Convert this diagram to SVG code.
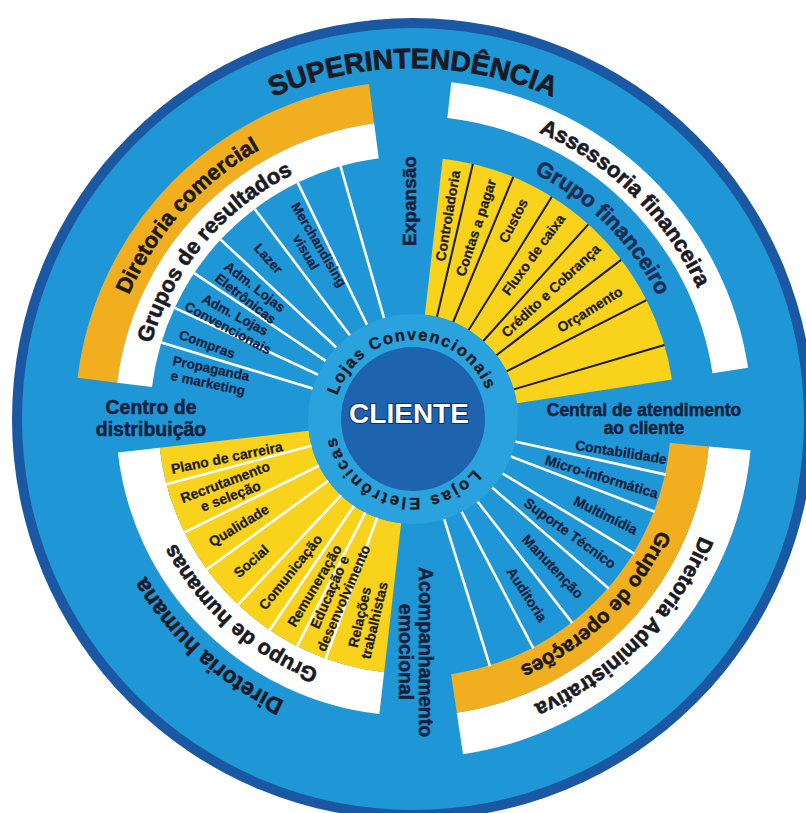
<svg xmlns="http://www.w3.org/2000/svg" width="806" height="813" viewBox="0 0 806 813">
<style>
  text { font-family: "Liberation Sans", Arial, sans-serif; font-weight: bold; fill: #1a1a24; }
  .arc { text-anchor: middle; }
  .band { font-size: 22px; stroke: #1a1a24; stroke-width: 0.6; }
  .sup { font-size: 28px; stroke: #1a1a24; stroke-width: 0.8; }
  .lojas { font-size: 16.5px; stroke: #1a1a24; stroke-width: 0.35; }
  .gap { font-size: 19px; fill: #16203a; stroke: #16203a; stroke-width: 0.5; }
  .item { font-size: 14px; stroke: #1a1a24; stroke-width: 0.25; }
  .tl { font-size: 13.5px; fill: #15203a; stroke: #15203a; stroke-width: 0.25; }
  .br { font-size: 14px; fill: #15203a; stroke: #15203a; stroke-width: 0.25; }
  .wl { stroke: #ffffff; stroke-width: 2.6; }
  .kl { stroke: #1a1a1a; stroke-width: 2; }
  .seg { fill: none; }
</style>
<defs>
  <!-- clockwise circles centred on the origin, starting at 9 o'clock -->
  <path id="a351" d="M-351 0A351 351 0 1 1 351 0A351 351 0 1 1 -351 0"/>
  <path id="a310" d="M-310 0A310 310 0 1 1 310 0A310 310 0 1 1 -310 0"/>
  <path id="a313" d="M-313 0A313 313 0 1 1 313 0A313 313 0 1 1 -313 0"/>
  <path id="a274" d="M-274 0A274 274 0 1 1 274 0A274 274 0 1 1 -274 0"/>
  <path id="a272" d="M-272.5 0A272.5 272.5 0 1 1 272.5 0A272.5 272.5 0 1 1 -272.5 0"/>
  <path id="a269" d="M-269.5 0A269.5 269.5 0 1 1 269.5 0A269.5 269.5 0 1 1 -269.5 0"/>
  <path id="a268" d="M-268 0A268 268 0 1 1 268 0A268 268 0 1 1 -268 0"/>
  <path id="a79" d="M-79 0A79 79 0 1 1 79 0A79 79 0 1 1 -79 0"/>
</defs>

<rect width="806" height="813" fill="#ffffff"/>

<!-- wheel background -->
<g id="wheel" transform="translate(413 419)">
  <circle r="401" fill="#1b58a4"/>
  <circle r="391" fill="#1f97d7"/>
</g>

<!-- quadrant bands (stroked arcs, pathLength in degrees) -->
<g id="bands" transform="translate(413 419)">
  <!-- Diretoria comercial (upper left) -->
  <circle class="seg" r="318" stroke="#f1ae1f" stroke-width="40" pathLength="360" stroke-dasharray="75.5 284.5" transform="rotate(187)"/>
  <circle class="seg" r="280.5" stroke="#ffffff" stroke-width="35" pathLength="360" stroke-dasharray="75.5 284.5" transform="rotate(187)"/>
  <!-- Assessoria financeira (upper right) -->
  <circle class="seg" r="321" stroke="#ffffff" stroke-width="36" pathLength="360" stroke-dasharray="74.8 285.2" transform="rotate(-83.5)"/>
  <circle class="seg" r="183.5" stroke="#f9d21c" stroke-width="157" pathLength="360" stroke-dasharray="74.8 285.2" transform="rotate(-83.5)"/>
  <!-- Diretoria Administrativa (lower right) -->
  <circle class="seg" r="318" stroke="#ffffff" stroke-width="42" pathLength="360" stroke-dasharray="76.2 283.8" transform="rotate(5.3)"/>
  <circle class="seg" r="277.5" stroke="#f1ae1f" stroke-width="39" pathLength="360" stroke-dasharray="76.2 283.8" transform="rotate(5.3)"/>
  <!-- Diretoria humana (lower left) -->
  <circle class="seg" r="276" stroke="#ffffff" stroke-width="42" pathLength="360" stroke-dasharray="77 283" transform="rotate(96.5)"/>
  <circle class="seg" r="180" stroke="#f9d21c" stroke-width="150" pathLength="360" stroke-dasharray="77 283" transform="rotate(96.5)"/>
</g>

<!-- sector dividers -->
<g id="dividers" transform="translate(413 419)">
  <g class="wl">
    <line x1="104" x2="263" transform="rotate(196.9)"/>
    <line x1="104" x2="263" transform="rotate(205)"/>
    <line x1="104" x2="263" transform="rotate(213.7)"/>
    <line x1="104" x2="263" transform="rotate(223)"/>
    <line x1="104" x2="263" transform="rotate(233)"/>
    <line x1="104" x2="263" transform="rotate(244)"/>
    <line x1="104" x2="263" transform="rotate(254)"/>
  </g>
  <g class="kl">
    <line x1="105" x2="262" transform="rotate(-76.8)"/>
    <line x1="105" x2="262" transform="rotate(-67.5)"/>
    <line x1="105" x2="262" transform="rotate(-58)"/>
    <line x1="105" x2="262" transform="rotate(-48)"/>
    <line x1="105" x2="262" transform="rotate(-37.4)"/>
    <line x1="105" x2="262" transform="rotate(-27)"/>
    <line x1="105" x2="262" transform="rotate(-16.4)"/>
  </g>
  <g class="wl">
    <line x1="102" x2="259" transform="rotate(12.4)"/>
    <line x1="102" x2="259" transform="rotate(21)"/>
    <line x1="102" x2="259" transform="rotate(31.3)"/>
    <line x1="102" x2="259" transform="rotate(40.9)"/>
    <line x1="102" x2="259" transform="rotate(52)"/>
    <line x1="102" x2="259" transform="rotate(62.3)"/>
    <line x1="102" x2="259" transform="rotate(72.7)"/>
  </g>
  <g class="wl">
    <line x1="104" x2="255" transform="rotate(165.2)"/>
    <line x1="104" x2="255" transform="rotate(153.6)"/>
    <line x1="104" x2="255" transform="rotate(143.9)"/>
    <line x1="104" x2="255" transform="rotate(133.3)"/>
    <line x1="104" x2="255" transform="rotate(124.2)"/>
    <line x1="104" x2="255" transform="rotate(117)"/>
    <line x1="104" x2="255" transform="rotate(110)"/>
  </g>
</g>

<!-- central hub -->
<g id="cliente" transform="translate(413 419)">
  <circle r="105" fill="#29a2de"/>
  <circle r="72" fill="#1d63ae"/>
  <text x="-4" y="4" text-anchor="middle" style="font-size:28px;fill:#ffffff;stroke:#0f2f60;stroke-width:2;paint-order:stroke">CLIENTE</text>
  <g transform="rotate(-1.7)"><text class="lojas arc" letter-spacing="1.6"><textPath href="#a79" startOffset="25%">Lojas Convencionais</textPath></text></g>
  <g transform="rotate(194)"><text class="lojas arc" letter-spacing="2.4"><textPath href="#a79" startOffset="25%">Lojas Eletrônicas</textPath></text></g>
</g>

<g id="superintendencia" transform="translate(413 419)">
  <text class="sup arc"><textPath href="#a351" startOffset="25%">SUPERINTENDÊNCIA</textPath></text>
</g>

<!-- upper left: Diretoria comercial -->
<g id="diretoria-comercial" transform="translate(413 419)">
  <g transform="rotate(312)"><text class="band arc"><textPath href="#a310" startOffset="25%">Diretoria comercial</textPath></text></g>
  <g transform="rotate(310)"><text class="band arc"><textPath href="#a272" startOffset="25%">Grupos de resultados</textPath></text></g>
  <g text-anchor="middle">
    <text class="tl" transform="rotate(12)"><tspan x="-208" y="-2.8">Propaganda</tspan><tspan x="-208" y="12.2">e marketing</tspan></text>
    <text class="tl" transform="rotate(20)" x="-219" y="4.7">Compras</text>
    <text class="tl" transform="rotate(28.3)"><tspan x="-206" y="-2.8">Adm. Lojas</tspan><tspan x="-206" y="12.2">Convencionais</tspan></text>
    <text class="tl" transform="rotate(37.8)"><tspan x="-206" y="-2.8">Adm. Lojas</tspan><tspan x="-206" y="12.2">Eletrônicas</tspan></text>
    <text class="tl" transform="rotate(48)" x="-216" y="4.7">Lazer</text>
    <text class="tl" transform="rotate(59.5)"><tspan x="-198" y="-2.8">Merchandising</tspan><tspan x="-198" y="12.2">visual</tspan></text>
  </g>
</g>

<!-- upper right: Assessoria financeira -->
<g id="assessoria-financeira" transform="translate(413 419)">
  <g transform="rotate(44.5)"><text class="band arc"><textPath href="#a313" startOffset="25%">Assessoria financeira</textPath></text></g>
  <g transform="rotate(44.8)"><text class="band arc" style="fill:#1b2d52;stroke:#1b2d52"><textPath href="#a274" startOffset="25%">Grupo financeiro</textPath></text></g>
  <g text-anchor="end">
    <text class="item" transform="rotate(-80.3)" x="252" y="5">Controladoria</text>
    <text class="item" transform="rotate(-71.8)" x="252" y="5">Contas a pagar</text>
    <text class="item" transform="rotate(-63.2)" x="246" y="5">Custos</text>
    <text class="item" transform="rotate(-53.8)" x="252" y="5">Fluxo de caixa</text>
    <text class="item" transform="rotate(-43)" x="253" y="5">Crédito e Cobrança</text>
    <text class="item" transform="rotate(-31.8)" x="245" y="5">Orçamento</text>
  </g>
</g>

<!-- lower right: Diretoria Administrativa -->
<g id="diretoria-administrativa" transform="translate(413 419)">
  <g transform="rotate(134.6)"><text class="band arc" style="font-size:21.5px"><textPath href="#a310" startOffset="25%">Diretoria Administrativa</textPath></text></g>
  <g transform="rotate(135.5)"><text class="band arc" style="font-size:20.5px"><textPath href="#a269" startOffset="25%">Grupo de operações</textPath></text></g>
  <g text-anchor="end">
    <text class="br" transform="rotate(9)" x="257" y="5">Contabilidade</text>
    <text class="br" transform="rotate(17)" x="256" y="5">Micro-informática</text>
    <text class="br" transform="rotate(26.5)" x="250" y="5">Multimídia</text>
    <text class="br" transform="rotate(36)" x="249" y="5">Suporte Técnico</text>
    <text class="br" transform="rotate(46.5)" x="244" y="5">Manutenção</text>
    <text class="br" transform="rotate(57)" x="240" y="5">Auditoria</text>
  </g>
</g>

<!-- lower left: Diretoria humana -->
<g id="diretoria-humana" transform="translate(413 419)">
  <g transform="rotate(222)"><text class="band arc" style="font-size:23px"><textPath href="#a310" startOffset="25%">Diretoria humana</textPath></text></g>
  <g transform="rotate(221.5)"><text class="band arc" style="font-size:21.5px"><textPath href="#a268" startOffset="25%">Grupo de humanas</textPath></text></g>
  <text class="item" transform="rotate(348.3)" x="-247" y="5">Plano de carreira</text>
  <text class="item" transform="rotate(339.3)" text-anchor="middle"><tspan x="-198" y="-2.5">Recrutamento</tspan><tspan x="-198" y="12.5">e seleção</tspan></text>
  <text class="item" transform="rotate(328.6)" x="-238" y="5">Qualidade</text>
  <text class="item" transform="rotate(318.7)" x="-236" y="5">Social</text>
  <text class="item" transform="rotate(308.7)" x="-242" y="5">Comunicação</text>
  <text class="item" transform="rotate(300.6)" x="-240" y="5">Remuneração</text>
  <text class="item" transform="rotate(293.5)" text-anchor="middle"><tspan x="-192" y="-2.5">Educação e</tspan><tspan x="-192" y="12.5">desenvolvimento</tspan></text>
  <text class="item" transform="rotate(283)" text-anchor="middle"><tspan x="-205" y="-2.5">Relações</tspan><tspan x="-205" y="12.5">trabalhistas</tspan></text>
</g>

<!-- labels in the gaps between quadrants -->
<g id="expansao">
  <text class="gap" transform="translate(416 201) rotate(-90)" text-anchor="middle">Expansão</text>
</g>
<g id="centro-distribuicao">
  <text class="gap" text-anchor="middle" style="font-size:19.5px"><tspan x="151" y="414">Centro de</tspan><tspan x="151" y="435.5">distribuição</tspan></text>
</g>
<g id="central-atendimento">
  <text class="gap" text-anchor="middle" style="font-size:17.5px"><tspan x="644" y="415.5">Central de atendimento</tspan><tspan x="644" y="434">ao cliente</tspan></text>
</g>
<g id="acompanhamento">
  <text class="gap" transform="translate(419 652) rotate(90)" text-anchor="middle" style="font-size:19.5px">Acompanhamento</text>
  <text class="gap" transform="translate(398.5 652) rotate(90)" text-anchor="middle" style="font-size:19.5px">emocional</text>
</g>
</svg>
